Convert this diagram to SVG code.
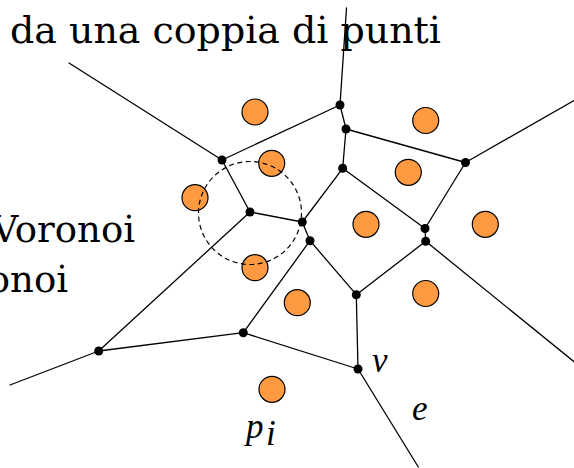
<svg xmlns="http://www.w3.org/2000/svg" width="574" height="468" viewBox="0 0 574 468">
<style>
.e{stroke:#000;stroke-width:1.3;fill:none;stroke-linecap:round}
.v{fill:#000}
.s{fill:#FF9A42;stroke:#000;stroke-width:1.2}
.t{font-family:"DejaVu Serif","Liberation Serif",serif;font-size:37px;fill:#000}
.m{font-family:"Liberation Serif",serif;font-style:italic;font-size:35px;fill:#000}
</style>
<rect width="574" height="468" fill="#fff"/>
<g id="labels">
<text class="t" x="10" y="43" textLength="431" lengthAdjust="spacingAndGlyphs">da una coppia di punti</text>
<text class="t" x="135" y="242" text-anchor="end">Voronoi</text>
<text class="t" x="68" y="292" text-anchor="end">onoi</text>
</g>
<g id="connectors" class="e">
<line x1="340" y1="105" x2="346.5" y2="8"/>
<line x1="340" y1="105" x2="222" y2="160"/>
<line x1="340" y1="105" x2="346" y2="129"/>
<line x1="222" y1="160" x2="69" y2="63"/>
<line x1="222" y1="160" x2="250" y2="212"/>
<line x1="346" y1="129" x2="465.5" y2="162.5"/>
<line x1="346" y1="129" x2="342.7" y2="168.3"/>
<line x1="465.5" y1="162.5" x2="574" y2="100.5"/>
<line x1="465.5" y1="162.5" x2="425" y2="228.5"/>
<line x1="342.7" y1="168.3" x2="425" y2="228.5"/>
<line x1="342.7" y1="168.3" x2="302.3" y2="222"/>
<line x1="250" y1="212" x2="302.3" y2="222"/>
<line x1="250" y1="212" x2="98.7" y2="351"/>
<line x1="302.3" y1="222" x2="310" y2="240.7"/>
<line x1="310" y1="240.7" x2="356.3" y2="294.7"/>
<line x1="310" y1="240.7" x2="243.3" y2="332.7"/>
<line x1="425" y1="228.5" x2="425.7" y2="241.3"/>
<line x1="425.7" y1="241.3" x2="356.3" y2="294.7"/>
<line x1="425.7" y1="241.3" x2="574" y2="361.7"/>
<line x1="356.3" y1="294.7" x2="358" y2="369"/>
<line x1="243.3" y1="332.7" x2="98.7" y2="351"/>
<line x1="243.3" y1="332.7" x2="358" y2="369"/>
<line x1="98.7" y1="351" x2="10" y2="385"/>
<line x1="358" y1="369" x2="418.3" y2="467"/>
</g>
<g id="sites">
<circle class="s" cx="255" cy="112" r="13"/>
<circle class="s" cx="425.7" cy="120.5" r="13"/>
<circle class="s" cx="271.7" cy="163.3" r="13"/>
<circle class="s" cx="195" cy="197.7" r="13"/>
<circle class="s" cx="408.3" cy="172.3" r="13"/>
<circle class="s" cx="366" cy="224.3" r="13"/>
<circle class="s" cx="485.3" cy="224.3" r="13"/>
<circle class="s" cx="255" cy="267.7" r="13"/>
<circle class="s" cx="297.3" cy="302.7" r="13"/>
<circle class="s" cx="425.7" cy="293.5" r="13"/>
<circle id="pi" class="s" cx="272" cy="389.3" r="13"/>
</g>
<g id="empty-circle">
<circle cx="250" cy="213" r="51.5" fill="none" stroke="#000" stroke-width="1.2" stroke-dasharray="5,3.5"/>
</g>
<g id="vertices" class="v">
<circle cx="340" cy="105" r="4.5"/>
<circle cx="346" cy="129" r="4.5"/>
<circle cx="222" cy="160" r="4.5"/>
<circle cx="465.5" cy="162.5" r="4.5"/>
<circle cx="342.7" cy="168.3" r="4.5"/>
<circle cx="250" cy="212" r="4.5"/>
<circle cx="302.3" cy="222" r="4.5"/>
<circle cx="425" cy="228.5" r="4.5"/>
<circle cx="310" cy="240.7" r="4.5"/>
<circle cx="425.7" cy="241.3" r="4.5"/>
<circle cx="356.3" cy="294.7" r="4.5"/>
<circle cx="243.3" cy="332.7" r="4.5"/>
<circle cx="98.7" cy="351" r="4.5"/>
<circle cx="358" cy="369" r="4.5"/>
</g>
<g id="math-labels">
<text class="m" x="372" y="372">v</text>
<text class="m" x="412" y="420">e</text>
<text class="m" x="246" y="438">p</text>
<text class="m" x="266" y="445" font-size="21">i</text>
</g>
</svg>
